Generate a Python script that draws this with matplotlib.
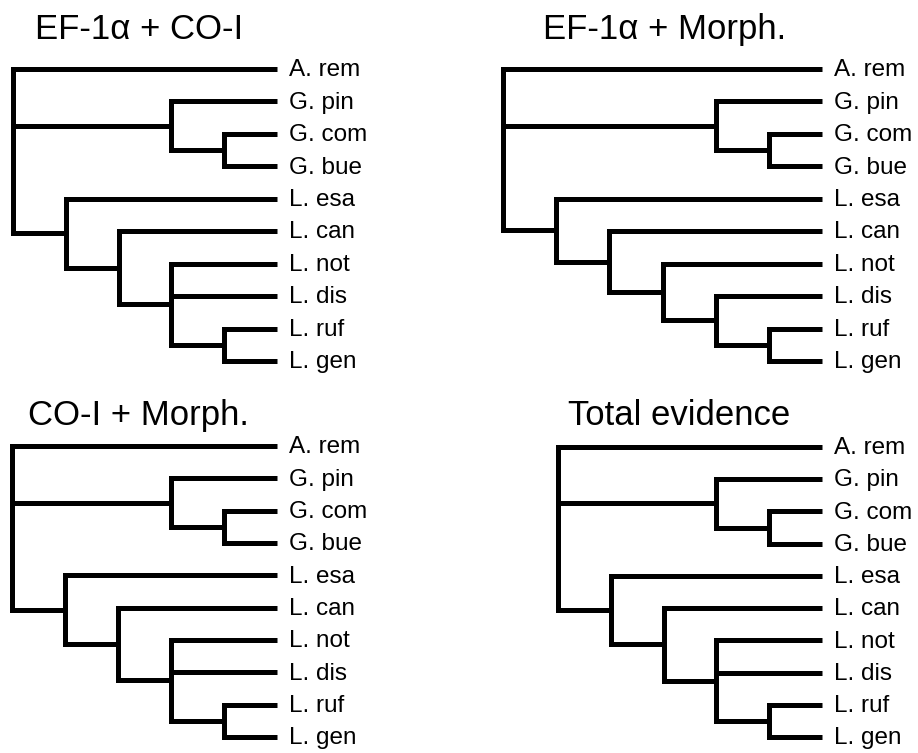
import matplotlib
matplotlib.use("Agg")
import matplotlib.pyplot as plt

plt.rcParams['font.family'] = ['Liberation Sans', 'DejaVu Sans']

# ---- data ----
taxa = ["A. rem", "G. pin", "G. com", "G. bue", "L. esa",
        "L. can", "L. not", "L. dis", "L. ruf", "L. gen"]

tree_ef_co = ("A. rem", ("G. pin", ("G. com", "G. bue")),
              ("L. esa", ("L. can", ("L. not", "L. dis", ("L. ruf", "L. gen")))))
tree_ef_morph = ("A. rem", ("G. pin", ("G. com", "G. bue")),
                 ("L. esa", ("L. can", ("L. not", ("L. dis", ("L. ruf", "L. gen"))))))
tree_co_morph = ("A. rem", ("G. pin", ("G. com", "G. bue")),
                 ("L. esa", ("L. can", ("L. not", "L. dis", ("L. ruf", "L. gen")))))
tree_total = ("A. rem", ("G. pin", ("G. com", "G. bue")),
              ("L. esa", ("L. can", ("L. not", "L. dis", ("L. ruf", "L. gen")))))

titles = ["EF-1\u03b1 + CO-I", "EF-1\u03b1 + Morph.", "CO-I + Morph.", "Total evidence"]
trees = [tree_ef_co, tree_ef_morph, tree_co_morph, tree_total]

# ---- layout (pixels in a 918x753 canvas) ----
W, H = 918, 753
panel_px = [  # root_x, tip_x, first_tip_y, last_tip_y, title_x, title_baseline
    (13, 277, 69, 361, 35, 39),
    (503, 822, 69, 361, 543, 39),
    (12, 277, 446, 737, 28, 425),
    (558, 822, 447, 737, 568, 425),
]
LW = 3.6
LABEL_FS = 17.5
TITLE_FS = 25

fig = plt.figure(figsize=(W / 100, H / 100), dpi=100)


def height(node):
    if isinstance(node, str):
        return 0
    return 1 + max(height(c) for c in node)


def draw_tree(ax, tree):
    total = height(tree)

    def rec(node):
        if isinstance(node, str):
            return total, taxa.index(node)
        coords = [rec(c) for c in node]
        nx = total - height(node)
        ys = [c[1] for c in coords]
        first, last = coords[0], coords[-1]
        ax.plot([first[0], nx, nx, last[0]], [first[1], first[1], last[1], last[1]],
                color='black', lw=LW, solid_joinstyle='miter', solid_capstyle='butt',
                clip_on=False)
        for cx, cy in coords[1:-1]:
            ax.plot([nx, cx], [cy, cy], color='black', lw=LW, solid_capstyle='butt',
                    clip_on=False)
        return nx, (min(ys) + max(ys)) / 2

    rec(tree)
    return total


for tree, title, (rx, tx, y0, y9, ttx, tty) in zip(trees, titles, panel_px):
    ax = fig.add_axes([rx / W, 1 - y9 / H, (tx - rx) / W, (y9 - y0) / H])
    total = draw_tree(ax, tree)
    ax.set_xlim(0, total)
    ax.set_ylim(len(taxa) - 1, 0)
    ax.axis('off')
    for i, name in enumerate(taxa):
        ax.annotate(name, (total, i), xytext=(8.5, -5.2), textcoords='offset points',
                    ha='left', va='baseline', fontsize=LABEL_FS, annotation_clip=False)
    fig.text(ttx / W, 1 - tty / H, title, ha='left', va='baseline', fontsize=TITLE_FS)

fig.savefig("out.png", dpi=100)
